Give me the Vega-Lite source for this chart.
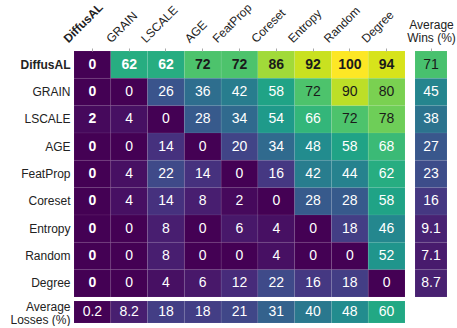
{
  "$schema": "https://vega.github.io/schema/vega-lite/v6.json",
  "padding": {"left": 9, "top": 0, "right": 0, "bottom": 0},
  "background": "white",
  "spacing": 2,
  "config": {
    "view": {"stroke": null},
    "font": "Liberation Sans",
    "axis": {"labelColor": "#222", "titleColor": "#222", "tickColor": "#aaa"}
  },
  "datasets": {
    "main": [
      {"r": "DiffusAL", "c": "DiffusAL", "v": 0}, {"r": "DiffusAL", "c": "GRAIN", "v": 62}, {"r": "DiffusAL", "c": "LSCALE", "v": 62}, {"r": "DiffusAL", "c": "AGE", "v": 72}, {"r": "DiffusAL", "c": "FeatProp", "v": 72}, {"r": "DiffusAL", "c": "Coreset", "v": 86}, {"r": "DiffusAL", "c": "Entropy", "v": 92}, {"r": "DiffusAL", "c": "Random", "v": 100}, {"r": "DiffusAL", "c": "Degree", "v": 94},
      {"r": "GRAIN", "c": "DiffusAL", "v": 0}, {"r": "GRAIN", "c": "GRAIN", "v": 0}, {"r": "GRAIN", "c": "LSCALE", "v": 26}, {"r": "GRAIN", "c": "AGE", "v": 36}, {"r": "GRAIN", "c": "FeatProp", "v": 42}, {"r": "GRAIN", "c": "Coreset", "v": 58}, {"r": "GRAIN", "c": "Entropy", "v": 72}, {"r": "GRAIN", "c": "Random", "v": 90}, {"r": "GRAIN", "c": "Degree", "v": 80},
      {"r": "LSCALE", "c": "DiffusAL", "v": 2}, {"r": "LSCALE", "c": "GRAIN", "v": 4}, {"r": "LSCALE", "c": "LSCALE", "v": 0}, {"r": "LSCALE", "c": "AGE", "v": 28}, {"r": "LSCALE", "c": "FeatProp", "v": 34}, {"r": "LSCALE", "c": "Coreset", "v": 54}, {"r": "LSCALE", "c": "Entropy", "v": 66}, {"r": "LSCALE", "c": "Random", "v": 72}, {"r": "LSCALE", "c": "Degree", "v": 78},
      {"r": "AGE", "c": "DiffusAL", "v": 0}, {"r": "AGE", "c": "GRAIN", "v": 0}, {"r": "AGE", "c": "LSCALE", "v": 14}, {"r": "AGE", "c": "AGE", "v": 0}, {"r": "AGE", "c": "FeatProp", "v": 20}, {"r": "AGE", "c": "Coreset", "v": 34}, {"r": "AGE", "c": "Entropy", "v": 48}, {"r": "AGE", "c": "Random", "v": 58}, {"r": "AGE", "c": "Degree", "v": 68},
      {"r": "FeatProp", "c": "DiffusAL", "v": 0}, {"r": "FeatProp", "c": "GRAIN", "v": 4}, {"r": "FeatProp", "c": "LSCALE", "v": 22}, {"r": "FeatProp", "c": "AGE", "v": 14}, {"r": "FeatProp", "c": "FeatProp", "v": 0}, {"r": "FeatProp", "c": "Coreset", "v": 16}, {"r": "FeatProp", "c": "Entropy", "v": 42}, {"r": "FeatProp", "c": "Random", "v": 44}, {"r": "FeatProp", "c": "Degree", "v": 62},
      {"r": "Coreset", "c": "DiffusAL", "v": 0}, {"r": "Coreset", "c": "GRAIN", "v": 4}, {"r": "Coreset", "c": "LSCALE", "v": 14}, {"r": "Coreset", "c": "AGE", "v": 8}, {"r": "Coreset", "c": "FeatProp", "v": 2}, {"r": "Coreset", "c": "Coreset", "v": 0}, {"r": "Coreset", "c": "Entropy", "v": 28}, {"r": "Coreset", "c": "Random", "v": 28}, {"r": "Coreset", "c": "Degree", "v": 58},
      {"r": "Entropy", "c": "DiffusAL", "v": 0}, {"r": "Entropy", "c": "GRAIN", "v": 0}, {"r": "Entropy", "c": "LSCALE", "v": 8}, {"r": "Entropy", "c": "AGE", "v": 0}, {"r": "Entropy", "c": "FeatProp", "v": 6}, {"r": "Entropy", "c": "Coreset", "v": 4}, {"r": "Entropy", "c": "Entropy", "v": 0}, {"r": "Entropy", "c": "Random", "v": 18}, {"r": "Entropy", "c": "Degree", "v": 46},
      {"r": "Random", "c": "DiffusAL", "v": 0}, {"r": "Random", "c": "GRAIN", "v": 0}, {"r": "Random", "c": "LSCALE", "v": 8}, {"r": "Random", "c": "AGE", "v": 0}, {"r": "Random", "c": "FeatProp", "v": 0}, {"r": "Random", "c": "Coreset", "v": 4}, {"r": "Random", "c": "Entropy", "v": 0}, {"r": "Random", "c": "Random", "v": 0}, {"r": "Random", "c": "Degree", "v": 52},
      {"r": "Degree", "c": "DiffusAL", "v": 0}, {"r": "Degree", "c": "GRAIN", "v": 0}, {"r": "Degree", "c": "LSCALE", "v": 4}, {"r": "Degree", "c": "AGE", "v": 6}, {"r": "Degree", "c": "FeatProp", "v": 12}, {"r": "Degree", "c": "Coreset", "v": 22}, {"r": "Degree", "c": "Entropy", "v": 16}, {"r": "Degree", "c": "Random", "v": 18}, {"r": "Degree", "c": "Degree", "v": 0}
    ],
    "wins": [
      {"r": "DiffusAL", "k": "Wins", "v": 71}, {"r": "GRAIN", "k": "Wins", "v": 45}, {"r": "LSCALE", "k": "Wins", "v": 38}, {"r": "AGE", "k": "Wins", "v": 27}, {"r": "FeatProp", "k": "Wins", "v": 23}, {"r": "Coreset", "k": "Wins", "v": 16}, {"r": "Entropy", "k": "Wins", "v": 9.1}, {"r": "Random", "k": "Wins", "v": 7.1}, {"r": "Degree", "k": "Wins", "v": 8.7}
    ],
    "losses": [
      {"c": "DiffusAL", "k": "Losses", "v": 0.2}, {"c": "GRAIN", "k": "Losses", "v": 8.2}, {"c": "LSCALE", "k": "Losses", "v": 18}, {"c": "AGE", "k": "Losses", "v": 18}, {"c": "FeatProp", "k": "Losses", "v": 21}, {"c": "Coreset", "k": "Losses", "v": 31}, {"c": "Entropy", "k": "Losses", "v": 40}, {"c": "Random", "k": "Losses", "v": 48}, {"c": "Degree", "k": "Losses", "v": 60}
    ]
  },
  "vconcat": [
    {
      "spacing": 0,
      "hconcat": [
        {
          "width": 331,
          "height": 246,
          "data": {"name": "main"},
          "encoding": {
            "x": {"field": "c", "type": "nominal", "sort": ["DiffusAL", "GRAIN", "LSCALE", "AGE", "FeatProp", "Coreset", "Entropy", "Random", "Degree"],
              "axis": {"orient": "top", "title": null, "domain": false, "tickSize": 3, "labelPadding": 5, "labelAngle": -45, "labelAlign": "left", "labelBaseline": "alphabetic", "labelFontSize": 12,
                "labelFontWeight": {"condition": {"test": "datum.value === 'DiffusAL'", "value": "bold"}, "value": "normal"},
                "labelOffset": {"condition": [
                  {"test": "datum.value === 'DiffusAL'", "value": -24},
                  {"test": "datum.value === 'GRAIN'", "value": -18},
                  {"test": "datum.value === 'AGE'", "value": -13},
                  {"test": "datum.value === 'FeatProp'", "value": -22},
                  {"test": "datum.value === 'Random'", "value": -21}
                ], "value": -20}}},
            "y": {"field": "r", "type": "nominal", "sort": ["DiffusAL", "GRAIN", "LSCALE", "AGE", "FeatProp", "Coreset", "Entropy", "Random", "Degree"],
              "axis": {"title": null, "domain": false, "ticks": false, "labelPadding": 4, "labelFontSize": 12,
                "labelFontWeight": {"condition": {"test": "datum.value === 'DiffusAL'", "value": "bold"}, "value": "normal"}}}
          },
          "layer": [
            {"mark": {"type": "rect", "stroke": "white", "strokeWidth": 0.5, "strokeOpacity": 0.12},
              "encoding": {"color": {"field": "v", "type": "quantitative", "scale": {"scheme": "viridis", "domain": [0, 100]}, "legend": null}}},
            {"transform": [{"filter": "datum.r === 'DiffusAL' || datum.c === 'DiffusAL'"}],
              "mark": {"type": "text", "fontSize": 14, "fontWeight": "bold"},
              "encoding": {
                "text": {"field": "v", "type": "quantitative"},
                "color": {"condition": {"test": "datum.v >= 70", "value": "#1a1a1a"}, "value": "white"}
              }},
            {"transform": [{"filter": "datum.r !== 'DiffusAL' && datum.c !== 'DiffusAL'"}],
              "mark": {"type": "text", "fontSize": 14},
              "encoding": {
                "text": {"field": "v", "type": "quantitative"},
                "color": {"condition": {"test": "datum.v >= 70", "value": "#1a1a1a"}, "value": "white"}
              }}
          ]
        },
        {
          "width": 32,
          "height": 246,
          "data": {"name": "wins"},
          "encoding": {
            "x": {"field": "k", "type": "nominal",
              "axis": {"orient": "top", "labels": false, "domain": false, "tickSize": 3, "title": ["Average", "Wins (%)"], "titleFontSize": 12, "titleFontWeight": "normal", "titleLineHeight": 13, "titlePadding": 3, "titleAlign": "center", "titleAnchor": "middle", "titleX": 16}},
            "y": {"field": "r", "type": "nominal", "sort": ["DiffusAL", "GRAIN", "LSCALE", "AGE", "FeatProp", "Coreset", "Entropy", "Random", "Degree"], "axis": null}
          },
          "layer": [
            {"mark": {"type": "rect", "stroke": "white", "strokeWidth": 0.5, "strokeOpacity": 0.12},
              "encoding": {"color": {"field": "v", "type": "quantitative", "scale": {"scheme": "viridis", "domain": [0, 100]}, "legend": null}}},
            {"mark": {"type": "text", "fontSize": 14},
              "encoding": {
                "text": {"field": "v", "type": "quantitative"},
                "color": {"condition": {"test": "datum.v >= 70", "value": "#1a1a1a"}, "value": "white"}
              }}
          ]
        }
      ]
    },
    {
      "width": 331,
      "height": 22,
      "data": {"name": "losses"},
      "encoding": {
        "x": {"field": "c", "type": "nominal", "sort": ["DiffusAL", "GRAIN", "LSCALE", "AGE", "FeatProp", "Coreset", "Entropy", "Random", "Degree"], "axis": null},
        "y": {"field": "k", "type": "nominal",
          "axis": {"title": null, "domain": false, "ticks": false, "labelPadding": 4, "labelFontSize": 12, "labelLineHeight": 13, "labelOffset": -5, "labelExpr": "['Average', 'Losses (%)']"}}
      },
      "layer": [
        {"mark": {"type": "rect", "stroke": "white", "strokeWidth": 0.5, "strokeOpacity": 0.12},
          "encoding": {"color": {"field": "v", "type": "quantitative", "scale": {"scheme": "viridis", "domain": [0, 100]}, "legend": null}}},
        {"mark": {"type": "text", "fontSize": 14},
          "encoding": {
            "text": {"field": "v", "type": "quantitative"},
            "color": {"condition": {"test": "datum.v >= 70", "value": "#1a1a1a"}, "value": "white"}
          }}
      ]
    }
  ]
}
